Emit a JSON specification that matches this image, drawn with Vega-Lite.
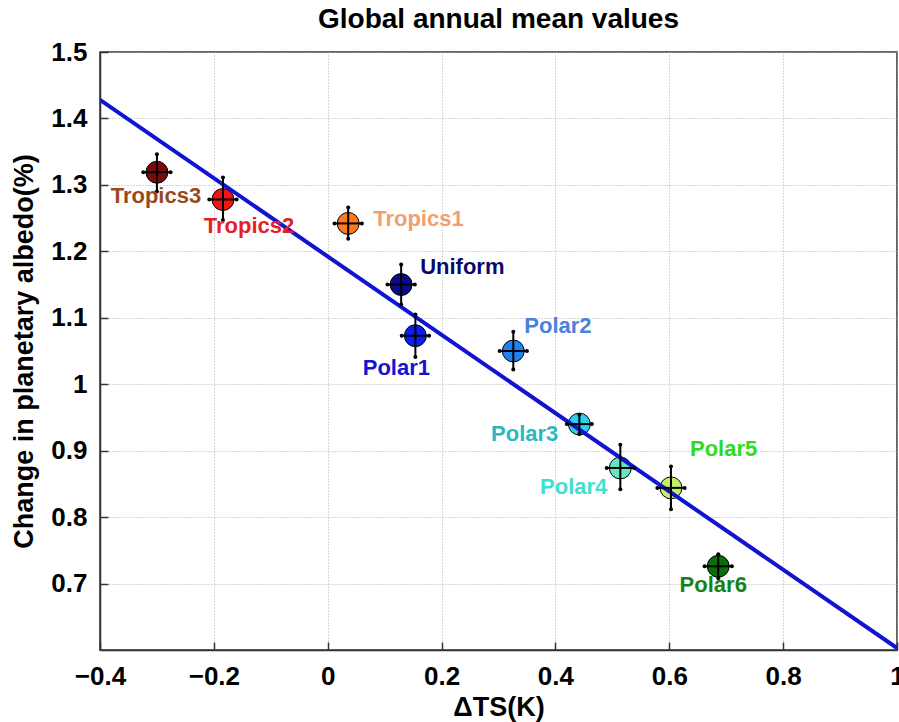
{
  "$schema": "https://vega.github.io/schema/vega-lite/v6.json",
  "autosize": "none",
  "width": 797,
  "height": 598,
  "padding": {"left": 100, "top": 52, "right": 2, "bottom": 72},
  "background": "white",
  "config": {
    "font": "Liberation Sans",
    "view": {"stroke": "#333333", "strokeWidth": 1.5},
    "axis": {
      "labelFont": "Liberation Sans",
      "titleFont": "Liberation Sans",
      "labelFontWeight": "bold",
      "titleFontWeight": "bold",
      "labelColor": "black",
      "titleColor": "black",
      "domainColor": "#333333",
      "domainWidth": 1.5,
      "tickColor": "#333333",
      "tickWidth": 1.5,
      "gridColor": "#b0b0b0",
      "gridDash": [1, 2],
      "gridWidth": 1
    }
  },
  "title": {
    "text": "Global annual mean values",
    "font": "Liberation Sans",
    "fontSize": 28,
    "fontWeight": "bold",
    "color": "black",
    "frame": "group",
    "anchor": "middle",
    "baseline": "alphabetic",
    "offset": -17
  },
  "datasets": {
    "runs": [
      {"run": "Tropics3", "dts": -0.3, "albedo": 1.319, "albedo_lo": 1.29, "albedo_hi": 1.346, "dts_lo": -0.324, "dts_hi": -0.276},
      {"run": "Tropics2", "dts": -0.184, "albedo": 1.278, "albedo_lo": 1.247, "albedo_hi": 1.311, "dts_lo": -0.208, "dts_hi": -0.16},
      {"run": "Tropics1", "dts": 0.036, "albedo": 1.242, "albedo_lo": 1.219, "albedo_hi": 1.266, "dts_lo": 0.012, "dts_hi": 0.06},
      {"run": "Uniform", "dts": 0.129, "albedo": 1.15, "albedo_lo": 1.12, "albedo_hi": 1.18, "dts_lo": 0.105, "dts_hi": 0.153},
      {"run": "Polar1", "dts": 0.154, "albedo": 1.073, "albedo_lo": 1.041, "albedo_hi": 1.105, "dts_lo": 0.13, "dts_hi": 0.178},
      {"run": "Polar2", "dts": 0.326, "albedo": 1.05, "albedo_lo": 1.022, "albedo_hi": 1.079, "dts_lo": 0.302, "dts_hi": 0.35},
      {"run": "Polar3", "dts": 0.442, "albedo": 0.94, "albedo_lo": 0.925, "albedo_hi": 0.954, "dts_lo": 0.42, "dts_hi": 0.464},
      {"run": "Polar4", "dts": 0.514, "albedo": 0.874, "albedo_lo": 0.842, "albedo_hi": 0.909, "dts_lo": 0.49, "dts_hi": 0.538},
      {"run": "Polar5", "dts": 0.603, "albedo": 0.844, "albedo_lo": 0.812, "albedo_hi": 0.876, "dts_lo": 0.579, "dts_hi": 0.627},
      {"run": "Polar6", "dts": 0.686, "albedo": 0.726, "albedo_lo": 0.708, "albedo_hi": 0.744, "dts_lo": 0.662, "dts_hi": 0.71}
    ],
    "fit": [
      {"dts": -0.4, "albedo": 1.428},
      {"dts": 1.0, "albedo": 0.603}
    ]
  },
  "data": {"name": "runs"},
  "encoding": {
    "x": {
      "field": "dts", "type": "quantitative",
      "scale": {"domain": [-0.4, 1.0], "nice": false, "zero": false},
      "axis": {
        "title": "ΔTS(K)", "values": [-0.4, -0.2, 0, 0.2, 0.4, 0.6, 0.8, 1],
        "labelFontSize": 26, "titleFontSize": 27,
        "tickSize": -8, "labelPadding": 21, "titlePadding": 5,
        "labelFlush": false, "labelExpr": "datum.value == 0 ? '0' : datum.value == 1 ? '1' : format(datum.value, '.1f')"
      }
    },
    "y": {
      "field": "albedo", "type": "quantitative",
      "scale": {"domain": [0.6, 1.5], "nice": false, "zero": false},
      "axis": {
        "title": "Change in planetary albedo(%)",
        "values": [0.7, 0.8, 0.9, 1, 1.1, 1.2, 1.3, 1.4, 1.5],
        "labelFontSize": 26, "titleFontSize": 27,
        "tickSize": -8, "labelPadding": 21, "titlePadding": 12,
        "labelFlush": false,
        "labelExpr": "datum.value == 1 ? '1' : format(datum.value, '.1f')"
      }
    }
  },
  "layer": [
    {
      "mark": {"type": "point", "filled": true, "shape": "circle", "size": 480, "stroke": "black", "strokeWidth": 1, "opacity": 1},
      "encoding": {
        "fill": {
          "field": "run", "type": "nominal", "legend": null,
          "scale": {
            "domain": ["Tropics3", "Tropics2", "Tropics1", "Uniform", "Polar1", "Polar2", "Polar3", "Polar4", "Polar5", "Polar6"],
            "range": ["#7a0a0a", "#f01414", "#ff7a1e", "#0a0a8c", "#0a1ef0", "#1e82f0", "#28d2f0", "#64e6c3", "#c3f064", "#0a6e0a"]
          }
        }
      }
    },
    {
      "data": {"name": "fit"},
      "mark": {"type": "line", "color": "#0f14d2", "strokeWidth": 4, "clip": true},
      "encoding": {}
    },
    {
      "mark": {"type": "rule", "color": "black", "strokeWidth": 2},
      "encoding": {"y": {"field": "albedo_lo"}, "y2": {"field": "albedo_hi"}}
    },
    {
      "mark": {"type": "rule", "color": "black", "strokeWidth": 2},
      "encoding": {"x": {"field": "dts_lo"}, "x2": {"field": "dts_hi"}}
    },
    {
      "mark": {"type": "circle", "color": "black", "size": 16, "opacity": 1},
      "encoding": {"y": {"field": "albedo_lo"}}
    },
    {
      "mark": {"type": "circle", "color": "black", "size": 16, "opacity": 1},
      "encoding": {"y": {"field": "albedo_hi"}}
    },
    {
      "mark": {"type": "circle", "color": "black", "size": 16, "opacity": 1},
      "encoding": {"x": {"field": "dts_lo"}}
    },
    {
      "mark": {"type": "circle", "color": "black", "size": 16, "opacity": 1},
      "encoding": {"x": {"field": "dts_hi"}}
    },
    {
      "transform": [{"filter": "datum.run == 'Tropics3'"}],
      "mark": {"type": "text", "fontSize": 22, "fontWeight": "bold", "align": "center", "baseline": "middle", "dx": -1, "dy": 24, "color": "#9a4a1a"},
      "encoding": {"text": {"field": "run"}}
    },
    {
      "transform": [{"filter": "datum.run == 'Tropics2'"}],
      "mark": {"type": "text", "fontSize": 22, "fontWeight": "bold", "align": "center", "baseline": "middle", "dx": 26, "dy": 26, "color": "#e61e28"},
      "encoding": {"text": {"field": "run"}}
    },
    {
      "transform": [{"filter": "datum.run == 'Tropics1'"}],
      "mark": {"type": "text", "fontSize": 22, "fontWeight": "bold", "align": "left", "baseline": "middle", "dx": 25, "dy": -4, "color": "#f0a070"},
      "encoding": {"text": {"field": "run"}}
    },
    {
      "transform": [{"filter": "datum.run == 'Uniform'"}],
      "mark": {"type": "text", "fontSize": 22, "fontWeight": "bold", "align": "left", "baseline": "middle", "dx": 19, "dy": -18, "color": "#0a0a6a"},
      "encoding": {"text": {"field": "run"}}
    },
    {
      "transform": [{"filter": "datum.run == 'Polar1'"}],
      "mark": {"type": "text", "fontSize": 22, "fontWeight": "bold", "align": "center", "baseline": "middle", "dx": -19, "dy": 32, "color": "#1414d2"},
      "encoding": {"text": {"field": "run"}}
    },
    {
      "transform": [{"filter": "datum.run == 'Polar2'"}],
      "mark": {"type": "text", "fontSize": 22, "fontWeight": "bold", "align": "left", "baseline": "middle", "dx": 11, "dy": -25, "color": "#4a80e0"},
      "encoding": {"text": {"field": "run"}}
    },
    {
      "transform": [{"filter": "datum.run == 'Polar3'"}],
      "mark": {"type": "text", "fontSize": 22, "fontWeight": "bold", "align": "right", "baseline": "middle", "dx": -21, "dy": 10, "color": "#2ab8c0"},
      "encoding": {"text": {"field": "run"}}
    },
    {
      "transform": [{"filter": "datum.run == 'Polar4'"}],
      "mark": {"type": "text", "fontSize": 22, "fontWeight": "bold", "align": "right", "baseline": "middle", "dx": -13, "dy": 19, "color": "#40e0d0"},
      "encoding": {"text": {"field": "run"}}
    },
    {
      "transform": [{"filter": "datum.run == 'Polar5'"}],
      "mark": {"type": "text", "fontSize": 22, "fontWeight": "bold", "align": "left", "baseline": "middle", "dx": 19, "dy": -39, "color": "#30dc1e"},
      "encoding": {"text": {"field": "run"}}
    },
    {
      "transform": [{"filter": "datum.run == 'Polar6'"}],
      "mark": {"type": "text", "fontSize": 22, "fontWeight": "bold", "align": "center", "baseline": "middle", "dx": -5, "dy": 19, "color": "#148214"},
      "encoding": {"text": {"field": "run"}}
    }
  ]
}
